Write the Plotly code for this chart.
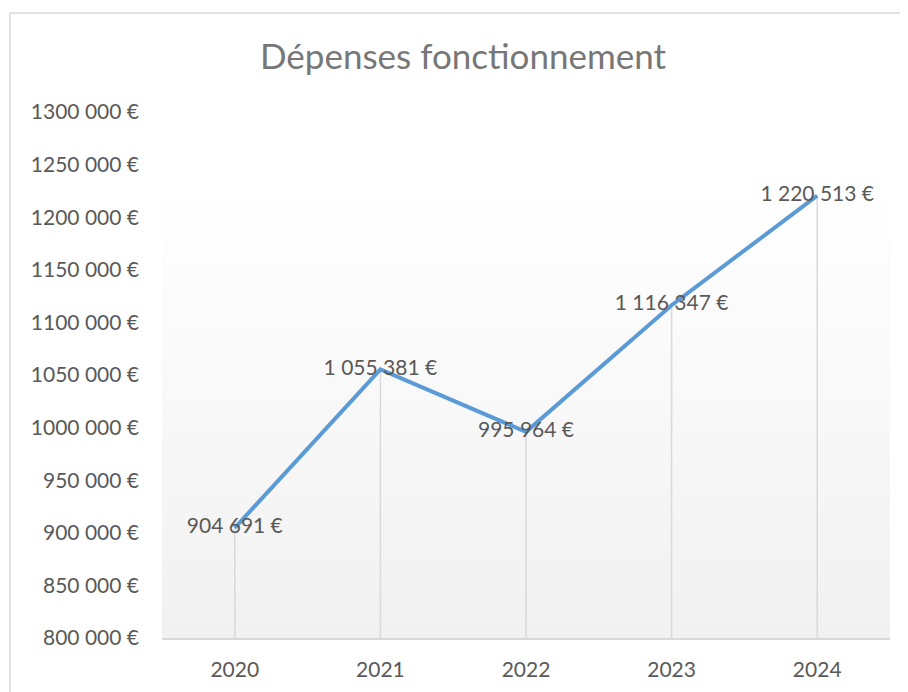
import plotly.graph_objects as go

years = ["2020", "2021", "2022", "2023", "2024"]
values = [904691, 1055381, 995964, 1116347, 1220513]
value_labels = ["904 691 €", "1 055 381 €", "995 964 €", "1 116 347 €", "1 220 513 €"]
tick_vals = [800000, 850000, 900000, 950000, 1000000, 1050000, 1100000, 1150000, 1200000, 1250000, 1300000]
tick_text = ["800 000 €", "850 000 €", "900 000 €", "950 000 €", "1000 000 €", "1050 000 €",
             "1100 000 €", "1150 000 €", "1200 000 €", "1250 000 €", "1300 000 €"]

y_min, y_max = tick_vals[0], tick_vals[-1]
xi = list(range(len(years)))
FONT = "Lato"
GRAY = "#595959"

# page body adds an 8px margin; compensate
O = 8
W, H = 908 - O, 692 - O
L, R, T, B = 162 - O, 18, 112 - O, 54
pw, ph = W - L - R, H - T - B

fig = go.Figure()

# gradient background of plot area
fig.add_trace(go.Scatter(
    x=[-0.5, len(years) - 0.5, len(years) - 0.5, -0.5, -0.5],
    y=[y_min, y_min, y_max, y_max, y_min],
    mode="lines", line=dict(width=0), fill="toself",
    fillgradient=dict(type="vertical", colorscale=[[0, "#f1f1f1"], [0.87, "#ffffff"], [1, "#ffffff"]]),
    hoverinfo="skip", showlegend=False,
))

# drop lines
fig.add_trace(go.Scatter(
    x=xi, y=values, mode="markers", marker=dict(size=0.1, color="rgba(0,0,0,0)"),
    error_y=dict(type="data", symmetric=False, array=[0] * len(values),
                 arrayminus=[v - y_min for v in values], color="#d9d9d9", thickness=1.5, width=0),
    hoverinfo="skip", showlegend=False,
))

# main line
fig.add_trace(go.Scatter(
    x=xi, y=values, mode="lines+text", text=value_labels, textposition="middle center",
    textfont=dict(family=FONT, size=21, color=GRAY),
    line=dict(color="#5B9BD5", width=4), showlegend=False,
))

# chart border
def px_to_paper_x(px):
    return (px - O - L) / pw

def px_to_paper_y(py):
    return (H - B - (py - O)) / ph

fig.add_shape(type="rect", xref="paper", yref="paper",
              x0=px_to_paper_x(10), x1=px_to_paper_x(930),
              y0=px_to_paper_y(710), y1=px_to_paper_y(13),
              line=dict(color="#d9d9d9", width=1.5), fillcolor="rgba(0,0,0,0)", layer="below")

fig.update_layout(
    width=W, height=H,
    margin=dict(l=L, r=R, t=T, b=B),
    paper_bgcolor="white", plot_bgcolor="white",
    title=dict(text="Dépenses fonctionnement", x=(463 - O) / W, xanchor="center",
               y=1 - (57 - O) / H, yanchor="middle",
               font=dict(family=FONT, size=35, color="#777777")),
    xaxis=dict(range=[-0.5, len(years) - 0.5], tickvals=xi, ticktext=years, showgrid=False, zeroline=False,
               showline=True, linecolor="#d9d9d9", linewidth=1.5, ticks="",
               tickfont=dict(family=FONT, size=21, color=GRAY), ticklabelstandoff=12),
    yaxis=dict(range=[y_min, y_max], tickvals=tick_vals, ticktext=tick_text, showgrid=False,
               zeroline=False, showline=False, ticks="",
               tickfont=dict(family=FONT, size=21, color=GRAY), ticklabelstandoff=22),
    font=dict(family=FONT),
)

fig.write_html("out.html")
